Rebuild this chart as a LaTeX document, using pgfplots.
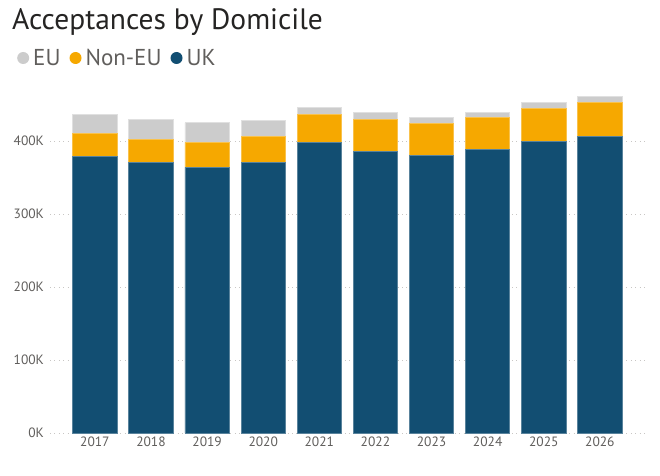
\documentclass[border=0pt]{standalone}
\usepackage{fontspec}
\setmainfont{PT Sans}
\usepackage{pgfplots}
\pgfplotsset{compat=1.18}
\definecolor{ukc}{HTML}{124E72}
\definecolor{nonc}{HTML}{F6A800}
\definecolor{euc}{HTML}{CCCCCC}
\definecolor{titlec}{HTML}{252423}
\definecolor{legc}{HTML}{605E5C}
\definecolor{tickc}{HTML}{605E5C}
\definecolor{gridc}{HTML}{C8C6C4}
\begin{document}
\begin{tikzpicture}[x=1pt,y=1pt]
\begin{axis}[
  at={(50pt,42pt)}, anchor=south west,
  scale only axis, width=597pt, height=343pt,
  xmin=-0.80, xmax=9.84, ymin=0, ymax=470,
  ybar stacked, bar width=0.79,
  xtick={0,...,9},
  xticklabels={2017,2018,2019,2020,2021,2022,2023,2024,2025,2026},
  ytick={0,100,200,300,400},
  yticklabels={0K,100K,200K,300K,400K},
  axis line style={draw=none},
  major tick length=0pt,
  ymajorgrids,
  major grid style={draw=gridc, line width=0.9pt, dash pattern=on 0.9pt off 3.5pt},
  tick label style={font=\fontsize{13.5}{15}\selectfont, text=tickc},
  yticklabel style={xshift=-2.5pt},
  reverse legend,
  legend columns=-1,
  legend style={at={(-0.0603,1.0933)}, anchor=west, draw=none, fill=none,
    font=\fontsize{23}{25}\selectfont, text=legc,
    nodes={inner sep=1pt},
    /tikz/every even column/.append style={column sep=8pt},
    /tikz/every odd column/.append style={column sep=3pt}},
  legend image code/.code={\fill[#1,draw=none] (6pt,0pt) circle (6pt);},
]
\addplot[fill=ukc, draw=ukc!70!white, line width=0.8pt] coordinates
 {(0,378.5) (1,370.3) (2,364.0) (3,371.2) (4,397.7) (5,385.3) (6,380.4) (7,388.1) (8,400.0) (9,405.9)};
\addplot[fill=nonc, draw=nonc!70!white, line width=0.8pt] coordinates
 {(0,31.5) (1,32.4) (2,34.2) (3,35.2) (4,38.3) (5,43.9) (6,43.8) (7,43.9) (8,45.2) (9,46.6)};
\addplot[fill=euc, draw=euc!60!white, line width=0.8pt] coordinates
 {(0,26.6) (1,27.0) (2,26.8) (3,22.4) (4,10.6) (5,9.6) (6,8.7) (7,7.7) (8,8.2) (9,8.2)};
\legend{UK,Non-EU,EU}
\end{axis}
\node[anchor=base west, inner sep=0pt, font=\fontsize{29.5}{31}\selectfont, text=titlec] at (12,445.7) {Acceptances by Domicile};
\pgfresetboundingbox
\path (0,0) rectangle (660,475);
\end{tikzpicture}
\end{document}
